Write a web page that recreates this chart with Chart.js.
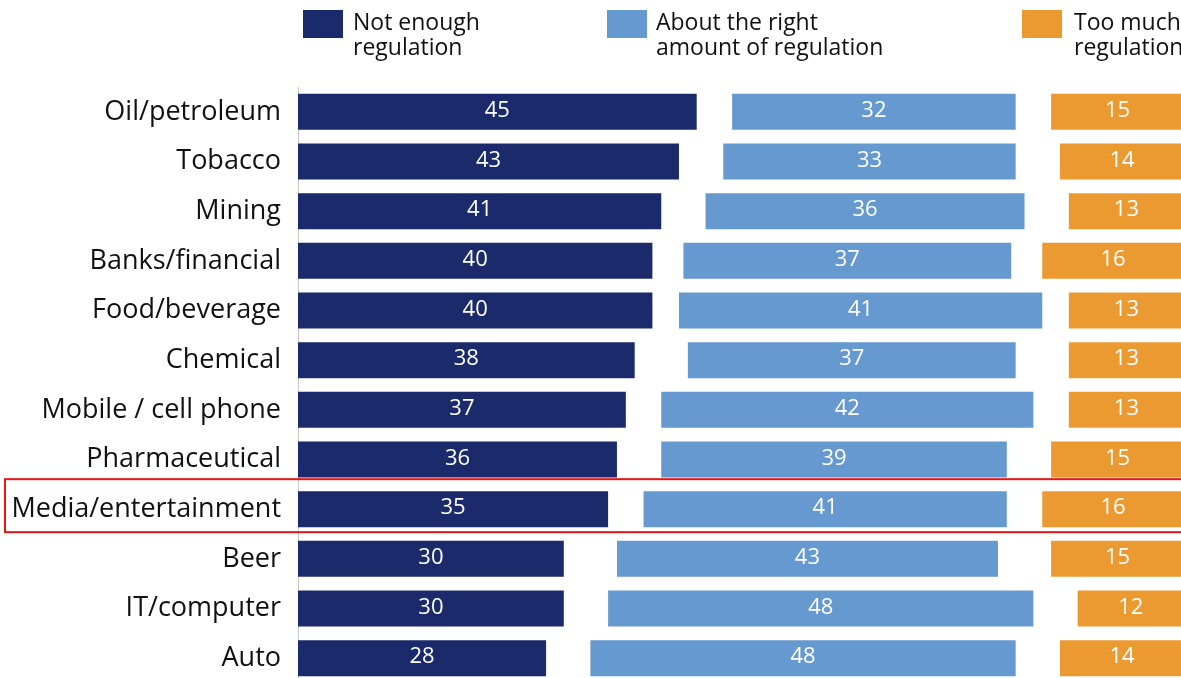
<!DOCTYPE html>
<html>
<head>
<meta charset="utf-8">
<script src="https://cdn.jsdelivr.net/npm/chart.js@4.4.1/dist/chart.umd.min.js"></script>
<style>
  html, body { margin: 0; padding: 0; background: #fff; overflow: hidden; width: 1181px; height: 678px; }
  #c { position: absolute; left: 0; top: 0; }
  .lg { position: absolute; top: 0; font-family: "Open Sans", sans-serif; font-size: 23px; line-height: 25px; color: #111; white-space: nowrap; }
  .sw { position: absolute; top: 10px; width: 40px; height: 28px; }
</style>
</head>
<body>
<canvas id="c" width="1184" height="683"></canvas>
<div class="sw" style="left:303px;background:#1b2a6b"></div>
<div class="lg" style="left:353px;top:9px">Not enough<br>regulation</div>
<div class="sw" style="left:607px;background:#6699cf"></div>
<div class="lg" style="left:656px;top:9px">About the right<br>amount of regulation</div>
<div class="sw" style="left:1022px;background:#eb9a32"></div>
<div class="lg" style="left:1074px;top:9px">Too much<br>regulation</div>
<script>
const categories = ["Oil/petroleum","Tobacco","Mining","Banks/financial","Food/beverage","Chemical","Mobile / cell phone","Pharmaceutical","Media/entertainment","Beer","IT/computer","Auto"];
const notEnough = [45,43,41,40,40,38,37,36,35,30,30,28];
const aboutRight = [32,33,36,37,41,37,42,39,41,43,48,48];
const tooMuch = [15,14,13,16,13,13,13,15,16,15,12,14];
const seriesNames = ["Not enough regulation","About the right amount of regulation","Too much regulation"];
const highlighted = "Media/entertainment";

// remaining share (no answer) split evenly into the two gaps between groups
const gap = categories.map((_, i) => (100 - notEnough[i] - aboutRight[i] - tooMuch[i]) / 2);

const colors = { dark: "#1b2a6b", light: "#6699cf", orange: "#eb9a32" };

const valueLabels = {
  id: "valueLabels",
  afterDatasetsDraw(chart) {
    const ctx = chart.ctx;
    ctx.save();
    ctx.font = '22px "Open Sans", sans-serif';
    ctx.fillStyle = "#ffffff";
    ctx.textAlign = "center";
    ctx.textBaseline = "middle";
    chart.data.datasets.forEach((ds, di) => {
      if (!ds.showValue) return;
      chart.getDatasetMeta(di).data.forEach((bar, i) => {
        const x = (bar.x + bar.base) / 2;
        ctx.fillText(String(ds.data[i]), x, bar.y - 1);
      });
    });
    ctx.restore();
  }
};

const highlightBox = {
  id: "highlightBox",
  afterDraw(chart) {
    const y = chart.scales.y;
    const idx = categories.indexOf(highlighted);
    const cy = y.getPixelForValue(idx);
    const ctx = chart.ctx;
    ctx.save();
    ctx.strokeStyle = "#e81616";
    ctx.lineWidth = 2;
    ctx.strokeRect(5, cy - 30, chart.width + 10, 53);
    ctx.restore();
  }
};

new Chart(document.getElementById("c"), {
  type: "bar",
  data: {
    labels: categories,
    datasets: [
      { label: seriesNames[0], data: notEnough, backgroundColor: colors.dark, showValue: true },
      { label: "gap1", data: gap, backgroundColor: "rgba(0,0,0,0)" },
      { label: seriesNames[1], data: aboutRight, backgroundColor: colors.light, showValue: true },
      { label: "gap2", data: gap, backgroundColor: "rgba(0,0,0,0)" },
      { label: seriesNames[2], data: tooMuch, backgroundColor: colors.orange, showValue: true }
    ]
  },
  options: {
    indexAxis: "y",
    responsive: false,
    maintainAspectRatio: false,
    animation: false,
    datasets: { bar: { barPercentage: 1, categoryPercentage: 0.725, borderWidth: 0 } },
    layout: { padding: { top: 87, right: 0, bottom: 0, left: 0 } },
    plugins: { legend: { display: false }, tooltip: { enabled: false } },
    scales: {
      x: { stacked: true, min: 0, max: 100, display: false },
      y: {
        stacked: true,
        grid: { display: false, drawTicks: false, tickLength: 0 },
        border: { display: true, color: "#c8c8c8", width: 1 },
        ticks: { color: "#111", padding: 17, font: { family: '"Open Sans", sans-serif', size: 27 } },
        afterFit(scale) { scale.width = 298; scale.paddingTop = 0; scale.paddingBottom = 0; }
      }
    }
  },
  plugins: [valueLabels, highlightBox]
});
</script>
</body>
</html>
